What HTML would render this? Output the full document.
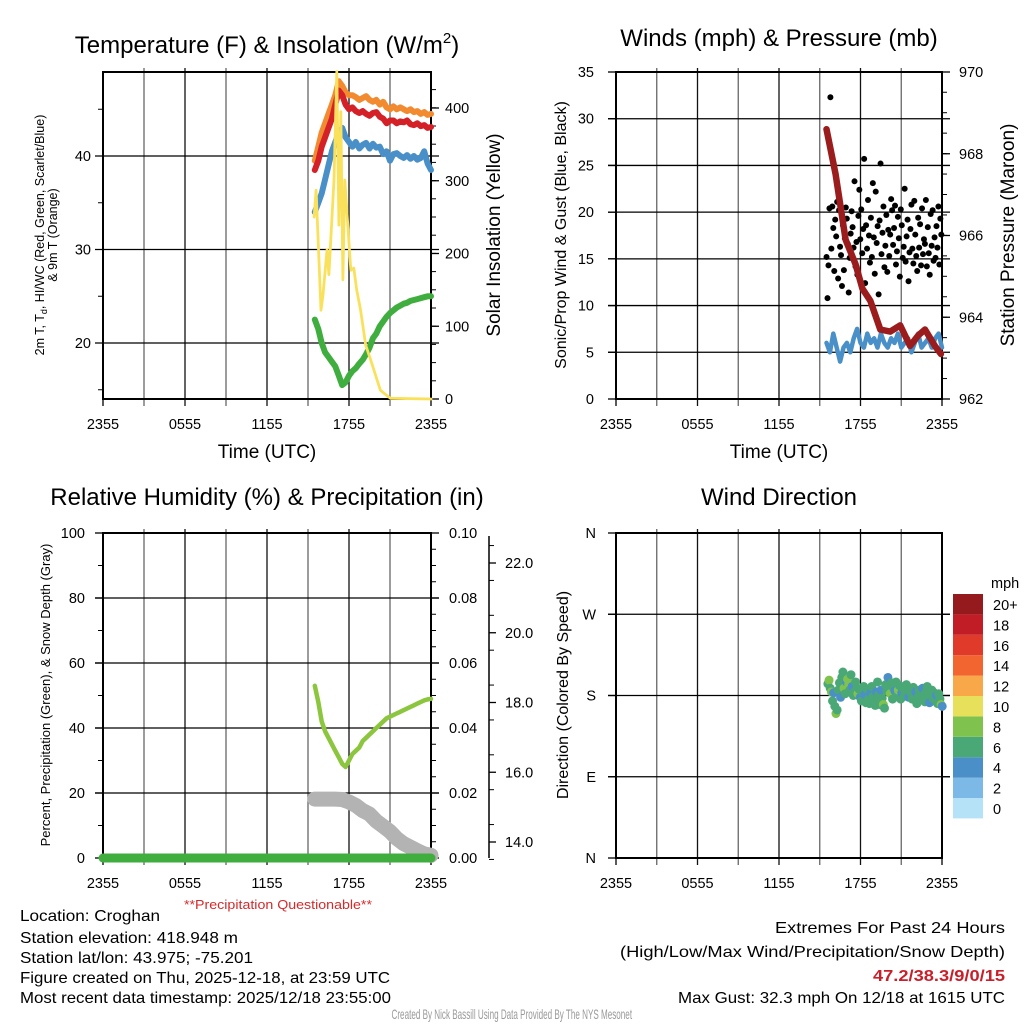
<!DOCTYPE html>
<html><head><meta charset="utf-8"><style>
html,body{margin:0;padding:0;background:#fff}
svg{display:block;font-family:"Liberation Sans",sans-serif}
</style></head><body>
<svg id="s" width="1024" height="1024" viewBox="0 0 1024 1024" xmlns="http://www.w3.org/2000/svg">
<g font-size="24" text-anchor="middle">
<text x="267" y="53">Temperature (F) &amp; Insolation (W/m<tspan font-size="15" dy="-10">2</tspan><tspan dy="10">)</tspan></text>
<text x="779" y="46">Winds (mph) &amp; Pressure (mb)</text>
<text x="267" y="505">Relative Humidity (%) &amp; Precipitation (in)</text>
<text x="779" y="505">Wind Direction</text>
</g>
<g id="g1"></g>
<g id="g2"></g>
<g id="g3"></g>
<g id="g4"></g>
<g font-size="16">
<text x="278" y="909" fill="#d42a2a" font-size="13" text-anchor="middle" textLength="188" lengthAdjust="spacingAndGlyphs">**Precipitation Questionable**</text>
<text x="20" y="921" textLength="140" lengthAdjust="spacingAndGlyphs">Location: Croghan</text>
<text x="20" y="943" textLength="218" lengthAdjust="spacingAndGlyphs">Station elevation: 418.948 m</text>
<text x="20" y="963" textLength="233" lengthAdjust="spacingAndGlyphs">Station lat/lon: 43.975; -75.201</text>
<text x="20" y="983" textLength="370" lengthAdjust="spacingAndGlyphs">Figure created on Thu, 2025-12-18, at 23:59 UTC</text>
<text x="20" y="1003" textLength="371" lengthAdjust="spacingAndGlyphs">Most recent data timestamp: 2025/12/18 23:55:00</text>
<text x="1005" y="933" text-anchor="end" textLength="230" lengthAdjust="spacingAndGlyphs">Extremes For Past 24 Hours</text>
<text x="1005" y="957" text-anchor="end" textLength="385" lengthAdjust="spacingAndGlyphs">(High/Low/Max Wind/Precipitation/Snow Depth)</text>
<text x="1005" y="981" text-anchor="end" fill="#c8202a" font-weight="bold" textLength="132" lengthAdjust="spacingAndGlyphs">47.2/38.3/9/0/15</text>
<text x="1005" y="1003" text-anchor="end" textLength="327" lengthAdjust="spacingAndGlyphs">Max Gust: 32.3 mph On 12/18 at 1615 UTC</text>
<text x="853" y="1019" transform="scale(0.6,1)" text-anchor="middle" fill="#999" font-size="13.5">Created By Nick Bassill Using Data Provided By The NYS Mesonet</text>
</g>
</svg>
<script>
// ---- shared
const xTickLabels=["2355","0555","1155","1755","2355"];
// ---- temperature panel data (hours since 2355 prev day)
const tTimes=[15.5,15.75,16,16.25,16.5,16.75,17,17.25,17.5,17.75,18,18.25,18.5,18.75,19,19.25,19.5,19.75,20,20.25,20.5,20.75,21,21.25,21.5,21.75,22,22.25,22.5,22.75,23,23.25,23.5,23.75,24];
const temp2m=[38.5,39.5,41,42,43,44,45.5,47,46.5,45.5,45,45.2,44.8,44.6,44.8,44.5,44.3,44.6,44.7,44.2,44,43.5,43.8,43.8,43.5,43.7,43.6,43.8,43.4,43.3,43.5,43.2,43.3,43,43.1];
const temp9m=[39.5,41,42.5,43.5,44.5,45.5,46.5,48,47.5,46.8,46.5,46.5,46.3,46,46.2,46.4,46,45.8,46,45.5,45.8,45.2,45,45.3,45,45.2,45,44.8,45,44.7,44.8,44.5,44.7,44.4,44.5];
const heatWC=[34,35,36,37.5,39,40.5,41.5,42.5,43,42,41.5,41,41.5,40.8,41.2,41.4,40.8,41.3,40.9,41,40.2,40.5,39.5,40.2,40.3,40,39.8,40.1,39.7,40,39.6,39.8,40.5,39.2,38.5];
const dewpt=[22.5,21.5,20,19,18.5,18,17.5,16.5,15.5,15.8,16.5,17,17.3,17.8,18.2,18.8,19.5,20.5,21,21.8,22.3,22.8,23.2,23.5,23.8,24,24.2,24.3,24.5,24.6,24.7,24.8,24.9,25,25];
const solTimes=[15.45,15.59,15.95,16.1,16.39,16.53,16.9,17.11,17.26,17.4,17.55,17.69,17.84,18.13,18.35,18.56,18.85,19.22,19.58,19.94,20.3,21.03,24];
const solar=[250,287,122,143,205,171,301,450,239,395,164,301,260,177,180,150,122,74,54,33,12,1,0];
const tempTicks=[20,30,40];
const solTicks=[0,100,200,300,400];
// ---- winds panel data
const pTimes=[15.5,16.17,16.9,17.63,18.14,18.73,19.46,20.19,20.92,21.65,22.24,22.75,23.48,23.92];
const pressure=[968.6,967.5,965.9,965.3,964.7,964.4,963.7,963.65,963.8,963.3,963.55,963.7,963.3,963.1];
const windTimes=[15.5,15.75,16,16.25,16.5,16.75,17,17.25,17.5,17.75,18,18.25,18.5,18.75,19,19.25,19.5,19.75,20,20.25,20.5,20.75,21,21.25,21.5,21.75,22,22.25,22.5,22.75,23,23.25,23.5,23.75,24];
const windSpd=[6,5,7,5.5,4,5.5,6,5,6.5,7.5,6,5.5,7,6,6.5,5.5,7,6,5.5,6.5,6,7,5.5,6,6.5,5,6,7,5.5,6,6.5,5.5,6.5,7,5.5];
const gustStart=15.5, gustStep=0.071;
const gusts=[15.2,10.8,14.3,20.4,32.3,16.1,20.6,18.3,13.7,19.2,17.4,21.1,12.9,20.2,16.3,15.4,12.1,18.6,13.8,17.2,20.5,19.3,16.6,11.4,15.1,17.7,20.1,18.4,16.2,23.3,14.2,16.8,13.3,19.6,22.4,17.1,20.3,15.6,18.2,25.7,12.4,18.6,16.1,21.3,17.5,14.6,19.4,15.2,23.1,17.3,13.4,22.2,16.7,18.5,11.2,19.1,25.2,15.5,17.8,20.6,14.1,16.4,19.7,13.6,18.1,15.3,17.6,21.4,20.2,
  16.5,18.3,20.7,14.4,15.8,19.5,17.2,13.1,20.3,18.6,15.1,16.3,22.5,14.7,17.4,19.2,12.6,15.7,18.2,20.8,16.1,14.5,21.2,17.6,15.3,13.7,19.4,16.2,18.7,14.3,20.4,15.5,17.1,16.6,21.3,14.2,18.4,15.6,13.3,19.8,16.4,20.2,14.8,17.3,15.1,18.5,16.2,20.6,14.4,19.3,17.6];
const windTicks=[0,5,10,15,20,25,30,35];
const presTicks=[962,964,966,968,970];
// ---- humidity panel data
const rh=[53,48,42,39,37,35,33,31,29,28,30,32,33,34,36,37,38,39,40,41,42,43,43.5,44,44.5,45,45.5,46,46.5,47,47.5,48,48.5,48.8,49];
const snowTimes=[15.5,16,16.5,17,17.5,18,18.5,19,19.5,20,20.5,21,21.5,22,22.5,23,23.5,24];
const snowDepth=[15.23,15.23,15.23,15.23,15.22,15.15,15.05,14.9,14.8,14.6,14.45,14.3,14.1,13.95,13.85,13.75,13.66,13.62];
const precipTimes=[0,6,12,18,24];
const precip=[0,0,0,0,0];
const rhTicks=[0,20,40,60,80,100];
const precipTicks=[0,0.02,0.04,0.06,0.08,0.1];
const snowTicks=[14,16,18,20,22];
// ---- wind direction data
const dirStart=15.6, dirStep=0.085;
const dirs=[193,197,188,184,174,183,168,160,164,186,194,178,200,206,188,182,195,198,192,186,203,190,180,184,195,188,182,187,178,174,184,190,181,172,187,176,171,183,190,179,176,169,184,195,181,170,186,177,170,166,
  192,185,200,188,182,194,176,188,185,195,180,186,191,176,183,188,179,185,192,181,178,186,183,176,189,180,184,171,178,186,182,175,188,180,173,184,190,178,172,181,186,177,183,175,180,171,182,176,170,168];
const dirSpd=[6,7,6,8,6,4,6,8,6,6,5,4,6,6,7,6,4,8,8,6,6,4,6,6,6,6,7,6,4,6,6,6,4,6,6,6,6,4,6,6,6,6,4,6,6,6,4,6,8,6,
  6,6,4,6,8,6,6,6,4,6,6,7,6,6,4,6,6,6,6,6,4,6,6,6,6,6,4,6,6,6,6,6,4,6,6,6,6,6,4,6,6,6,6,6,4,6,6,6,8,4];
const dirTicks=["N","E","S","W","N"];
const legendLabels=["0","2","4","6","8","10","12","14","16","18","20+"];
const legendColors=["#b5e2f7","#7cb9e6","#4a8fc7","#4aa877","#7fc24e","#e6e05a","#f8a848","#f26530","#e03a2a","#c11d27","#951a1d"];

const NS="http://www.w3.org/2000/svg";
function mk(p,tag,at){const e=document.createElementNS(NS,tag);for(const k in at)e.setAttribute(k,at[k]);p.appendChild(e);return e;}
function txt(p,x,y,s,at){const e=mk(p,'text',Object.assign({x:x,y:y},at||{}));e.textContent=s;return e;}
function lin(d0,d1,r0,r1){return v=>r0+(v-d0)*(r1-r0)/(d1-d0);}
function frame(g,L,T,R,B,hGrid){
  const x=lin(0,24,L,R);
  for(let h=3;h<24;h+=3){const l=mk(g,'line',{x1:x(h),y1:T-4,x2:x(h),y2:B+7,stroke:(h%6==0)?'#111':'#666','stroke-width':1.3});
    }
  hGrid.forEach(y=>{const l=mk(g,'line',{x1:L-8,y1:y,x2:R+8,y2:y,stroke:'#000','stroke-width':1.3});
    });
  const r=mk(g,'rect',{x:L,y:T,width:R-L,height:B-T,fill:'none',stroke:'#000','stroke-width':2});
  
  mk(g,'line',{x1:L,y1:B,x2:L,y2:B+7,stroke:'#000','stroke-width':1.3});
  mk(g,'line',{x1:R,y1:B,x2:R,y2:B+7,stroke:'#000','stroke-width':1.3});
  xTickLabels.forEach((s,i)=>{const t=txt(g,x(i*6),B+30,s,{'font-size':14.5,'text-anchor':'middle'});
    });
  return x;
}
function path(g,xs,ys,xf,yf,at,name){let d='';xs.forEach((t,i)=>{d+=(i?'L':'M')+xf(t).toFixed(1)+','+yf(ys[i]).toFixed(1);});
  const p=mk(g,'path',Object.assign({d:d,fill:'none','stroke-linejoin':'round','stroke-linecap':'round'},at));
  return p;}
function minorTicks(g,X,y0,y1,step,dir){for(let y=y0;y>=y1-0.1;y-=step)mk(g,'line',{x1:X,y1:y,x2:X+dir*5,y2:y,stroke:'#000','stroke-width':1});}

// ===== Panel 1
(function(){
const g=document.getElementById('g1');const L=103,T=72,R=431,B=399;
const y=lin(20,30,343,249.5), ys=lin(0,400,399,108);
const x=frame(g,L,T,R,B,tempTicks.map(y));
tempTicks.forEach(v=>{const t=txt(g,L-12,y(v)+5,String(v),{'font-size':14.5,'text-anchor':'end'});
  });
[15,25,35,45].forEach(v=>mk(g,'line',{x1:L,y1:y(v),x2:L-5,y2:y(v),stroke:'#000'}));
solTicks.forEach(v=>{mk(g,'line',{x1:R,y1:ys(v),x2:R+8,y2:ys(v),stroke:'#000','stroke-width':1.3});
  const t=txt(g,R+14,ys(v)+5,String(v),{'font-size':14.5});
  });
minorTicks(g,R,399,80,18.2,1);
path(g,tTimes,dewpt,x,y,{stroke:'#3fae3f','stroke-width':6},'dewpoint-line');
path(g,tTimes,temp9m,x,y,{stroke:'#f28a30','stroke-width':6},'temp-9m-line');
path(g,tTimes,temp2m,x,y,{stroke:'#d42027','stroke-width':6},'temp-2m-line');
path(g,tTimes,heatWC,x,y,{stroke:'#4a90c8','stroke-width':6},'wind-chill-line');
path(g,solTimes,solar,x,ys,{stroke:'#fae15c','stroke-width':2.8},'insolation-line');
let t=txt(g,267,458,'Time (UTC)',{'font-size':19,'text-anchor':'middle'});
t=mk(g,'text',{transform:'translate(44,235) rotate(-90)','font-size':12.5,'text-anchor':'middle'});
t.innerHTML='2m T, T<tspan font-size="9" dy="3">d</tspan><tspan dy="-3">, HI/WC (Red, Green, Scarlet/Blue)</tspan>';

t=txt(g,0,0,'& 9m T (Orange)',{transform:'translate(57,235) rotate(-90)','font-size':12.5,'text-anchor':'middle'});

t=txt(g,0,0,'Solar Insolation (Yellow)',{transform:'translate(500,235) rotate(-90)','font-size':19,'text-anchor':'middle'});

})();

// ===== Panel 2
(function(){
const g=document.getElementById('g2');const L=616,T=72,R=942,B=399;
const y=lin(0,35,B,T), yp=lin(962,970,B,T);
const x=frame(g,L,T,R,B,[5,10,15,20,25,30].map(y));
windTicks.forEach(v=>{mk(g,'line',{x1:L,y1:y(v),x2:L-8,y2:y(v),stroke:'#000','stroke-width':1.3});
  const t=txt(g,L-22,y(v)+5,String(v),{'font-size':14.5,'text-anchor':'end'});
  });
presTicks.forEach(v=>{mk(g,'line',{x1:R,y1:yp(v),x2:R+8,y2:yp(v),stroke:'#000','stroke-width':1.3});
  const t=txt(g,R+17,yp(v)+5,String(v),{'font-size':14.5});
  });
minorTicks(g,R,B,T,20.45,1);
path(g,windTimes,windSpd,x,y,{stroke:'#4a90c8','stroke-width':4.5},'wind-speed-line');
gusts.forEach((v,i)=>{const c=mk(g,'circle',{cx:x(gustStart+i*gustStep),cy:y(v),r:3,fill:'#000'});
  });
path(g,pTimes,pressure,x,yp,{stroke:'#9b1c1c','stroke-width':6.5},'pressure-line');
let t=txt(g,779,458,'Time (UTC)',{'font-size':19,'text-anchor':'middle'});
t=txt(g,0,0,'Sonic/Prop Wind & Gust (Blue, Black)',{transform:'translate(566,235) rotate(-90)','font-size':16,'text-anchor':'middle'});

t=txt(g,0,0,'Station Pressure (Maroon)',{transform:'translate(1014,235) rotate(-90)','font-size':19,'text-anchor':'middle'});

})();

// ===== Panel 3
(function(){
const g=document.getElementById('g3');const L=103,T=533,R=431,B=858;
const y=lin(0,100,B,T), ypr=lin(0,0.1,B,T), ysn=lin(14,22,842,563);
const x=frame(g,L,T,R,B,[20,40,60,80].map(y));
rhTicks.forEach(v=>{mk(g,'line',{x1:L,y1:y(v),x2:L-8,y2:y(v),stroke:'#000','stroke-width':1.3});
  const t=txt(g,L-18,y(v)+5,String(v),{'font-size':14.5,'text-anchor':'end'});
  });
minorTicks(g,L,B,T,32.5,-1);
precipTicks.forEach(v=>{mk(g,'line',{x1:R,y1:ypr(v),x2:R+8,y2:ypr(v),stroke:'#000','stroke-width':1.3});
  const t=txt(g,R+18,ypr(v)+5,v.toFixed(2),{'font-size':14.5});
  });
minorTicks(g,R,B,T,16.25,1);
mk(g,'line',{x1:489,y1:536,x2:489,y2:858,stroke:'#000','stroke-width':1.5});
snowTicks.forEach(v=>{mk(g,'line',{x1:489,y1:ysn(v),x2:496,y2:ysn(v),stroke:'#000','stroke-width':1.3});
  const t=txt(g,505,ysn(v)+5,v.toFixed(1),{'font-size':14.5});
  });
for(let v=13.5;v<23;v+=1)mk(g,'line',{x1:489,y1:ysn(v),x2:494,y2:ysn(v),stroke:'#000'});
path(g,snowTimes,snowDepth,x,ysn,{stroke:'#b3b3b3','stroke-width':15},'snow-depth-line');
path(g,precipTimes,precip,x,ypr,{stroke:'#3fae3f','stroke-width':9},'precip-line');
path(g,tTimes,rh,x,y,{stroke:'#8cc63f','stroke-width':4.5},'rh-line');
let t=txt(g,0,0,'Percent, Precipitation (Green), & Snow Depth (Gray)',{transform:'translate(50,695) rotate(-90)','font-size':13,'text-anchor':'middle'});

})();

// ===== Panel 4
(function(){
const g=document.getElementById('g4');const L=616,T=533,R=942,B=858;
const y=lin(0,360,B,T);
const x=frame(g,L,T,R,B,[90,180,270].map(y));
dirTicks.forEach((s,i)=>{mk(g,'line',{x1:L,y1:y(i*90),x2:L-8,y2:y(i*90),stroke:'#000','stroke-width':1.3});
  const t=txt(g,L-20,y(i*90)+5,s,{'font-size':14.5,'text-anchor':'end'});
  });
[90,180,270].forEach(v=>mk(g,'line',{x1:R,y1:y(v),x2:R+8,y2:y(v),stroke:'#000','stroke-width':1.3}));
function col(s){return legendColors[Math.min(10,Math.round(s/2))];}
dirs.forEach((d,i)=>{const c=mk(g,'circle',{cx:x(dirStart+i*dirStep),cy:y(d),r:4.5,fill:col(dirSpd[i])});
  });
let t=txt(g,0,0,'Direction (Colored By Speed)',{transform:'translate(568,695) rotate(-90)','font-size':16,'text-anchor':'middle'});

t=txt(g,991,588,'mph',{'font-size':14.5});
const lg=mk(g,'g',{});
legendColors.forEach((c,i)=>{const yy=798-i*20.4;
  const r=mk(lg,'rect',{x:953,y:yy,width:30,height:20.4,fill:c});
  
  const tt=txt(lg,993,yy+16,legendLabels[i],{'font-size':14.5});
  });
})();
</script>
</body></html>
